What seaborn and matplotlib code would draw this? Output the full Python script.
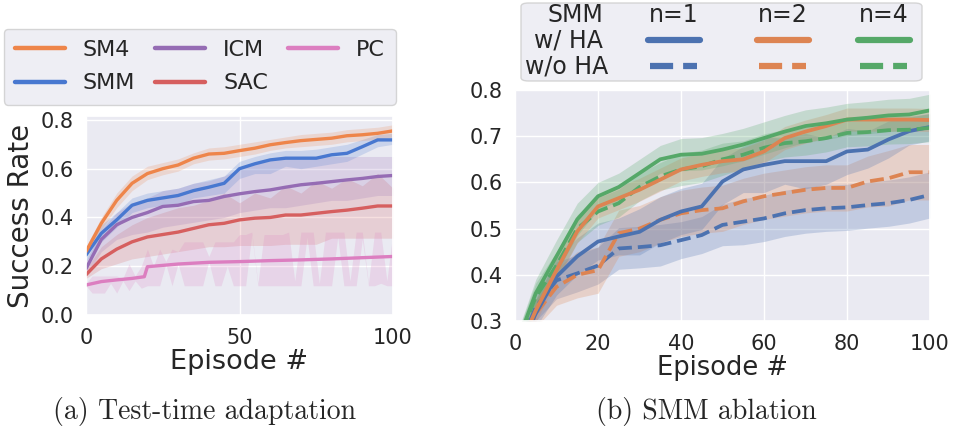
import matplotlib
matplotlib.use("Agg")
import numpy as np
import pandas as pd
import matplotlib.pyplot as plt
import seaborn as sns
from matplotlib.lines import Line2D
from matplotlib.patches import FancyBboxPatch

# ---------------- data: (a) test-time adaptation ----------------
EPISODES = list(range(0, 101, 5))

SM4_MEAN = [0.26, 0.376, 0.47, 0.54, 0.58, 0.60, 0.615, 0.643, 0.66, 0.663, 0.674,
            0.684, 0.698, 0.707, 0.715, 0.72, 0.725, 0.735, 0.739, 0.745, 0.755]
SM4_LO = [0.24, 0.35, 0.44, 0.51, 0.555, 0.575, 0.59, 0.62, 0.635, 0.64, 0.65,
          0.66, 0.675, 0.685, 0.69, 0.695, 0.70, 0.71, 0.715, 0.72, 0.73]
SM4_HI = [0.28, 0.40, 0.50, 0.57, 0.61, 0.625, 0.64, 0.665, 0.685, 0.69, 0.70,
          0.71, 0.72, 0.73, 0.74, 0.745, 0.75, 0.76, 0.765, 0.77, 0.78]

SMM_MEAN = [0.246, 0.335, 0.39, 0.45, 0.47, 0.48, 0.49, 0.51, 0.524, 0.54, 0.60,
            0.62, 0.636, 0.643, 0.643, 0.643, 0.657, 0.663, 0.69, 0.718, 0.718]
SMM_LO = [0.22, 0.30, 0.36, 0.42, 0.44, 0.45, 0.45, 0.48, 0.49, 0.50, 0.56,
          0.58, 0.58, 0.61, 0.60, 0.61, 0.62, 0.63, 0.66, 0.69, 0.70]
SMM_HI = [0.27, 0.37, 0.42, 0.48, 0.50, 0.51, 0.52, 0.54, 0.555, 0.57, 0.63,
          0.65, 0.665, 0.675, 0.675, 0.68, 0.69, 0.70, 0.72, 0.74, 0.745]

ICM_MEAN = [0.19, 0.31, 0.37, 0.40, 0.42, 0.445, 0.45, 0.465, 0.47, 0.486, 0.497,
            0.506, 0.513, 0.524, 0.534, 0.54, 0.547, 0.554, 0.56, 0.568, 0.572]
ICM_LO = [0.16, 0.26, 0.31, 0.33, 0.34, 0.36, 0.37, 0.38, 0.39, 0.40, 0.42,
          0.43, 0.44, 0.44, 0.45, 0.46, 0.47, 0.47, 0.48, 0.49, 0.49]
ICM_HI = [0.22, 0.35, 0.42, 0.46, 0.48, 0.51, 0.52, 0.54, 0.55, 0.57, 0.60,
          0.62, 0.64, 0.645, 0.65, 0.65, 0.65, 0.65, 0.65, 0.65, 0.65]

SAC_MEAN = [0.165, 0.23, 0.27, 0.30, 0.32, 0.33, 0.34, 0.355, 0.37, 0.376, 0.39,
            0.397, 0.40, 0.41, 0.41, 0.417, 0.424, 0.43, 0.438, 0.447, 0.447]
SAC_LO = [0.15, 0.19, 0.21, 0.23, 0.24, 0.25, 0.26, 0.27, 0.28, 0.28, 0.285,
          0.285, 0.285, 0.29, 0.29, 0.29, 0.315, 0.315, 0.315, 0.315, 0.315]
SAC_HI = [0.19, 0.28, 0.33, 0.37, 0.40, 0.42, 0.44, 0.45, 0.47, 0.50, 0.46,
          0.50, 0.48, 0.53, 0.50, 0.55, 0.52, 0.56, 0.53, 0.58, 0.52]

PC_EP = [0, 5, 10, 15, 19, 20, 30, 40, 50, 60, 70, 80, 90, 100]
PC_MEAN = [0.123, 0.137, 0.144, 0.15, 0.157, 0.198, 0.209, 0.216, 0.219, 0.223,
           0.226, 0.23, 0.235, 0.24]
PC_BAND_EP = list(range(0, 101, 2))
PC_LO = [0.12, 0.09, 0.09, 0.09, 0.13, 0.09, 0.14, 0.10, 0.14, 0.11,
         0.12, 0.12, 0.12, 0.21, 0.12, 0.21, 0.12, 0.12, 0.12, 0.12,
         0.22, 0.12, 0.12, 0.20, 0.12, 0.12, 0.12, 0.33, 0.12, 0.12,
         0.12, 0.12, 0.12, 0.12, 0.12, 0.12, 0.32, 0.12, 0.12, 0.12,
         0.12, 0.32, 0.12, 0.12, 0.12, 0.31, 0.12, 0.12, 0.13, 0.12,
         0.12]
PC_HI = [0.13, 0.16, 0.16, 0.16, 0.16, 0.16, 0.15, 0.21, 0.16, 0.20,
         0.27, 0.20, 0.27, 0.22, 0.27, 0.26, 0.30, 0.30, 0.30, 0.30,
         0.24, 0.30, 0.30, 0.30, 0.30, 0.33, 0.33, 0.34, 0.13, 0.33,
         0.33, 0.33, 0.33, 0.34, 0.14, 0.34, 0.34, 0.34, 0.13, 0.34,
         0.34, 0.34, 0.34, 0.14, 0.34, 0.34, 0.13, 0.34, 0.34, 0.14,
         0.34]

LEFT_NAMES = ["SM4", "SMM", "ICM", "SAC", "PC"]

# ---------------- data: (b) SMM ablation ----------------
N4_HA = [0.24, 0.36, 0.44, 0.52, 0.57, 0.59, 0.62, 0.65, 0.66, 0.662, 0.671,
         0.682, 0.696, 0.71, 0.722, 0.728, 0.736, 0.74, 0.745, 0.747, 0.756]
N4_NOHA = [0.24, 0.352, 0.42, 0.50, 0.537, 0.555, 0.59, 0.613, 0.628, 0.635, 0.65,
           0.66, 0.675, 0.685, 0.689, 0.696, 0.707, 0.709, 0.713, 0.714, 0.718]
N2_HA = [0.22, 0.323, 0.41, 0.494, 0.548, 0.566, 0.584, 0.606, 0.628, 0.638, 0.646,
         0.65, 0.667, 0.696, 0.71, 0.722, 0.736, 0.736, 0.736, 0.736, 0.735]
N1_HA = [0.22, 0.316, 0.396, 0.44, 0.472, 0.483, 0.493, 0.519, 0.537, 0.548, 0.602,
         0.628, 0.638, 0.646, 0.646, 0.646, 0.667, 0.671, 0.693, 0.711, 0.72]
N2_NOHA = [0.20, 0.316, 0.374, 0.40, 0.41, 0.49, 0.50, 0.519, 0.533, 0.54, 0.544,
           0.559, 0.57, 0.577, 0.584, 0.588, 0.588, 0.602, 0.609, 0.622, 0.622]
N1_NOHA = [0.22, 0.33, 0.388, 0.403, 0.42, 0.457, 0.46, 0.464, 0.475, 0.486, 0.508,
           0.515, 0.522, 0.533, 0.54, 0.544, 0.546, 0.551, 0.555, 0.562, 0.573]

N4_HA_SPREAD = [0.02, 0.03, 0.035, 0.035, 0.03, 0.03, 0.03, 0.03, 0.035, 0.035, 0.035,
                0.035, 0.035, 0.035, 0.035, 0.035, 0.035, 0.035, 0.035, 0.035, 0.035]
N4_NOHA_SPREAD = [0.02, 0.03, 0.03, 0.03, 0.03, 0.03, 0.03, 0.03, 0.035, 0.035, 0.035,
                  0.03, 0.03, 0.03, 0.03, 0.03, 0.03, 0.03, 0.03, 0.03, 0.03]
N2_HA_SPREAD = [0.02, 0.025, 0.025, 0.025, 0.025, 0.025, 0.025, 0.025, 0.025, 0.025, 0.025,
                0.025, 0.025, 0.025, 0.025, 0.025, 0.025, 0.025, 0.025, 0.025, 0.025]
N1_HA_SPREAD = [0.02, 0.03, 0.04, 0.04, 0.04, 0.04, 0.05, 0.05, 0.05, 0.05, 0.05,
                0.05, 0.06, 0.05, 0.06, 0.05, 0.05, 0.04, 0.04, 0.03, 0.03]
N2_NOHA_SPREAD = [0.02, 0.03, 0.04, 0.05, 0.05, 0.05, 0.05, 0.05, 0.05, 0.05, 0.05,
                  0.05, 0.05, 0.05, 0.05, 0.05, 0.05, 0.055, 0.06, 0.06, 0.06]
N1_NOHA_SPREAD = [0.02, 0.03, 0.04, 0.04, 0.04, 0.045, 0.045, 0.045, 0.04, 0.04, 0.045,
                  0.05, 0.05, 0.05, 0.05, 0.05, 0.05, 0.05, 0.05, 0.05, 0.05]

N_LABELS = ["n=1", "n=2", "n=4"]
ROW_LABELS = ["SMM", "w/ HA", "w/o HA"]

# ---------------- style ----------------
sns.set_theme(style="darkgrid")
plt.rcParams["font.family"] = ["DejaVu Sans"]

muted = sns.color_palette("muted")
deep = sns.color_palette("deep")
LEFT_COLORS = {"SM4": muted[1], "SMM": muted[0], "ICM": muted[4],
               "SAC": muted[3], "PC": muted[6]}
RIGHT_COLORS = [deep[0], deep[1], deep[2]]

W, H = 955, 430
fig = plt.figure(figsize=(W / 100, H / 100), dpi=100)

def fx(px):
    return px / W

def fy(py):
    return 1 - py / H

# ---------------- left panel ----------------
axL = fig.add_axes([fx(86), fy(315), fx(393) - fx(86), fy(116) - fy(315)])

left_series = [
    ("SAC", EPISODES, SAC_MEAN, EPISODES, SAC_LO, SAC_HI),
    ("ICM", EPISODES, ICM_MEAN, EPISODES, ICM_LO, ICM_HI),
    ("PC", PC_EP, PC_MEAN, PC_BAND_EP, PC_LO, PC_HI),
    ("SMM", EPISODES, SMM_MEAN, EPISODES, SMM_LO, SMM_HI),
    ("SM4", EPISODES, SM4_MEAN, EPISODES, SM4_LO, SM4_HI),
]
for name, ex, mean, bx, lo, hi in left_series:
    axL.fill_between(bx, lo, hi, color=LEFT_COLORS[name], alpha=0.2, lw=0)
for name, ex, mean, bx, lo, hi in left_series:
    df = pd.DataFrame({"Episode": ex, "Success": mean})
    sns.lineplot(data=df, x="Episode", y="Success", ax=axL, color=LEFT_COLORS[name],
                 lw=2.4, errorbar=None)

axL.set_xlim(0, 100)
axL.set_ylim(0, 0.816)
axL.set_xticks([0, 50, 100])
axL.set_yticks([0.0, 0.2, 0.4, 0.6, 0.8])
axL.set_yticklabels(["0.0", "0.2", "0.4", "0.6", "0.8"])
axL.tick_params(labelsize=15, pad=3)
axL.set_xlabel("Episode #", fontsize=19.5, labelpad=1)
axL.set_ylabel("Success Rate", fontsize=20, labelpad=4)

handlesL = [Line2D([], [], color=LEFT_COLORS[n], lw=3.2) for n in LEFT_NAMES]
fig.legend(handlesL, LEFT_NAMES, ncol=3, loc="upper left",
           bbox_to_anchor=(fx(4), fy(29)), fontsize=16, handlelength=2.25,
           handletextpad=0.8, columnspacing=0.9, labelspacing=0.6,
           borderpad=0.5, borderaxespad=0, frameon=True)

# ---------------- right panel ----------------
axR = fig.add_axes([fx(515), fy(321), fx(930) - fx(515), fy(90) - fy(321)])

right_series = [
    (N1_NOHA, N1_NOHA_SPREAD, 0, "--"),
    (N2_NOHA, N2_NOHA_SPREAD, 1, "--"),
    (N1_HA, N1_HA_SPREAD, 0, "-"),
    (N4_NOHA, N4_NOHA_SPREAD, 2, "--"),
    (N2_HA, N2_HA_SPREAD, 1, "-"),
    (N4_HA, N4_HA_SPREAD, 2, "-"),
]
for mean, spread, ci, ls in right_series:
    m = np.array(mean)
    s = np.array(spread)
    axR.fill_between(EPISODES, m - s, m + s, color=RIGHT_COLORS[ci], alpha=0.25, lw=0)
for mean, spread, ci, ls in right_series:
    df = pd.DataFrame({"Episode": EPISODES, "Success": mean})
    sns.lineplot(data=df, x="Episode", y="Success", ax=axR, color=RIGHT_COLORS[ci],
                 lw=2.7, linestyle=ls, errorbar=None)

axR.set_xlim(0, 100)
axR.set_ylim(0.3, 0.8)
axR.set_xticks([0, 20, 40, 60, 80, 100])
axR.set_yticks([0.3, 0.4, 0.5, 0.6, 0.7, 0.8])
axR.set_yticklabels(["0.3", "0.4", "0.5", "0.6", "0.7", "0.8"])
axR.tick_params(labelsize=15, pad=3)
axR.set_xlabel("Episode #", fontsize=18.5, labelpad=1)
axR.set_ylabel("")

# table-style legend for the right panel
box = FancyBboxPatch((fx(521), fy(81)), fx(922) - fx(521), fy(3) - fy(81),
                     boxstyle="round,pad=0,rounding_size=0.008",
                     transform=fig.transFigure, facecolor="#eaeaf2",
                     edgecolor="0.8", lw=1.0, alpha=0.8)
fig.patches.append(box)
row_y = [15, 40, 66]
row_x = [575, 568, 567]
for lab, yy, xx in zip(ROW_LABELS, row_y, row_x):
    fig.text(fx(xx), fy(yy), lab, ha="center", va="center", fontsize=17)
col_x = [(648, 700), (757, 809), (858, 910)]
for (x0, x1), lab, col in zip(col_x, N_LABELS, RIGHT_COLORS):
    fig.text(fx((x0 + x1) / 2), fy(15), lab, ha="center", va="center", fontsize=17)
    fig.lines.append(Line2D([fx(x0), fx(x1)], [fy(40), fy(40)], transform=fig.transFigure,
                            color=col, lw=4.5, solid_capstyle="round"))
    fig.lines.append(Line2D([fx(x0 + 2), fx(x1 - 3)], [fy(66), fy(66)],
                            transform=fig.transFigure, color=col, lw=4.5, linestyle="--"))

# captions
fig.text(fx(205), fy(412), "(a) Test-time adaptation", ha="center", va="center",
         family="cmr10", fontsize=20)
fig.text(fx(706), fy(412), "(b) SMM ablation", ha="center", va="center",
         family="cmr10", fontsize=20)

fig.savefig("out.png", dpi=100)
